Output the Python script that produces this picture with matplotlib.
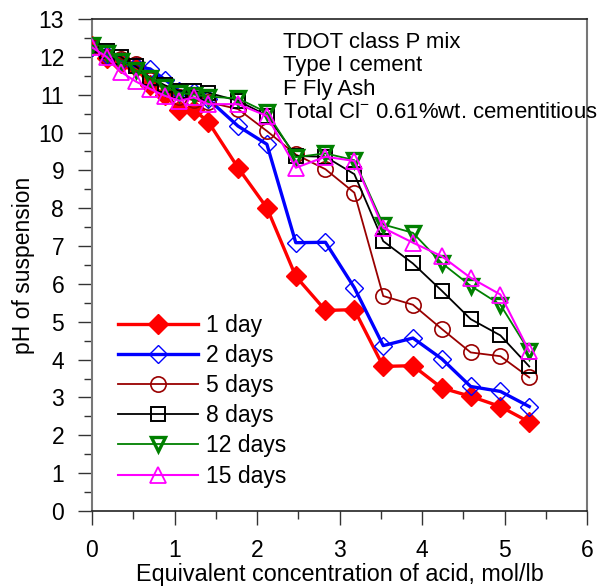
import matplotlib
matplotlib.use("Agg")
import matplotlib.pyplot as plt
from matplotlib.ticker import MultipleLocator

plt.rcParams['font.family'] = ['Liberation Sans', 'DejaVu Sans']
plt.rcParams['mathtext.fontset'] = 'custom'
plt.rcParams['mathtext.rm'] = 'Liberation Sans'

acid = [0, 0.177, 0.353, 0.53, 0.706, 0.883, 1.06, 1.236, 1.41, 1.77, 2.12,
        2.47, 2.83, 3.18, 3.53, 3.89, 4.24, 4.59, 4.95, 5.30]

ph_1day = [12.28, 11.97, 11.85, 11.72, 11.25, 11.0, 10.6, 10.6, 10.28, 9.07,
           8.01, 6.2, 5.3, 5.32, 3.82, 3.84, 3.25, 3.03, 2.76, 2.35]
ph_2days = [12.25, 12.05, 11.9, 11.75, 11.68, 11.4, 11.1, 11.06, 10.88, 10.17,
            9.69, 7.09, 7.1, 5.9, 4.37, 4.57, 4.02, 3.29, 3.16, 2.76]
ph_5days = [12.25, 12.0, 11.95, 11.8, 11.4, 11.2, 10.95, 10.85, 10.8, 10.62,
            10.04, 9.42, 9.03, 8.41, 5.68, 5.45, 4.81, 4.19, 4.09, 3.53]
ph_8days = [12.3, 12.15, 12.0, 11.75, 11.45, 11.25, 11.1, 11.1, 11.05, 10.84,
            10.45, 9.38, 9.36, 8.9, 7.13, 6.54, 5.82, 5.07, 4.64, 3.82]
ph_12days = [12.3, 12.1, 11.9, 11.65, 11.45, 11.2, 11.05, 11.0, 10.95, 10.9,
             10.53, 9.35, 9.45, 9.27, 7.57, 7.35, 6.55, 5.95, 5.45, 4.22]
ph_15days = [12.25, 12.0, 11.6, 11.35, 11.15, 10.97, 10.84, 10.93, 10.75, 10.75,
             10.44, 9.07, 9.36, 9.25, 7.48, 7.09, 6.73, 6.16, 5.72, 4.22]

labels = ["1 day", "2 days", "5 days", "8 days", "12 days", "15 days"]
note_lines = ["TDOT class P mix", "Type I cement", "F Fly Ash",
              "Total Cl$^{-}$ 0.61%wt. cementitious"]

FS = 16.5

fig = plt.figure(figsize=(6.03, 5.88), dpi=100)
ax = fig.add_axes([92/603, 1-511/588, (587-92)/603, (511-19)/588])

ax.plot(acid, ph_1day, color='#ff0000', lw=2.4, marker='D', ms=10,
        mfc='#ff0000', mec='#ff0000', label=labels[0], zorder=3)
ax.plot(acid, ph_2days, color='#0000ff', lw=2.4, marker='D', ms=9,
        mfc='none', mec='#0000ff', mew=1.0, label=labels[1], zorder=3)
ax.plot(acid, ph_5days, color='#990000', lw=1.3, marker='o', ms=11,
        mfc='none', mec='#990000', mew=1.2, label=labels[2], zorder=3)
ax.plot(acid, ph_8days, color='#000000', lw=1.3, marker='s', ms=10,
        mfc='none', mec='#000000', mew=1.4, label=labels[3], zorder=3)
ax.plot(acid, ph_12days, color='#008000', lw=1.3, marker='v', ms=10,
        mfc='none', mec='#008000', mew=2.4, label=labels[4], zorder=3)
ax.plot(acid, ph_15days, color='#ff00ff', lw=1.5, marker='^', ms=11,
        mfc='none', mec='#ff00ff', mew=1.3, label=labels[5], zorder=3)

ax.set_xlim(0, 6)
ax.set_ylim(0, 13)
ax.xaxis.set_major_locator(MultipleLocator(1))
ax.xaxis.set_minor_locator(MultipleLocator(0.5))
ax.yaxis.set_major_locator(MultipleLocator(1))
ax.yaxis.set_minor_locator(MultipleLocator(0.5))
ax.tick_params(which='major', direction='out', length=10, width=1.0,
               labelsize=FS, pad=10, color='#333333')
ax.tick_params(which='minor', direction='out', length=6, width=1.0,
               color='#333333')
for s in ['left', 'right']:
    ax.spines[s].set_color('#777777')
    ax.spines[s].set_linewidth(1.5)
for s in ['top', 'bottom']:
    ax.spines[s].set_color('#222222')
    ax.spines[s].set_linewidth(1.2)

ax.set_xlabel("Equivalent concentration of acid, mol/lb", fontsize=16.8, labelpad=1)
ax.set_ylabel("pH of suspension", fontsize=FS, labelpad=3)

for i, line in enumerate(note_lines):
    ax.text(283/603, 1-(42+i*23.5)/588, line, transform=fig.transFigure,
            fontsize=15.9, va='center', ha='left')

ax.legend(loc='upper left', bbox_to_anchor=((118-92)/495, (511-314)/492),
          frameon=False, fontsize=FS, handlelength=3.5, handletextpad=0.35,
          labelspacing=0.31, borderaxespad=0, borderpad=0)

fig.savefig("out.png", dpi=100)
